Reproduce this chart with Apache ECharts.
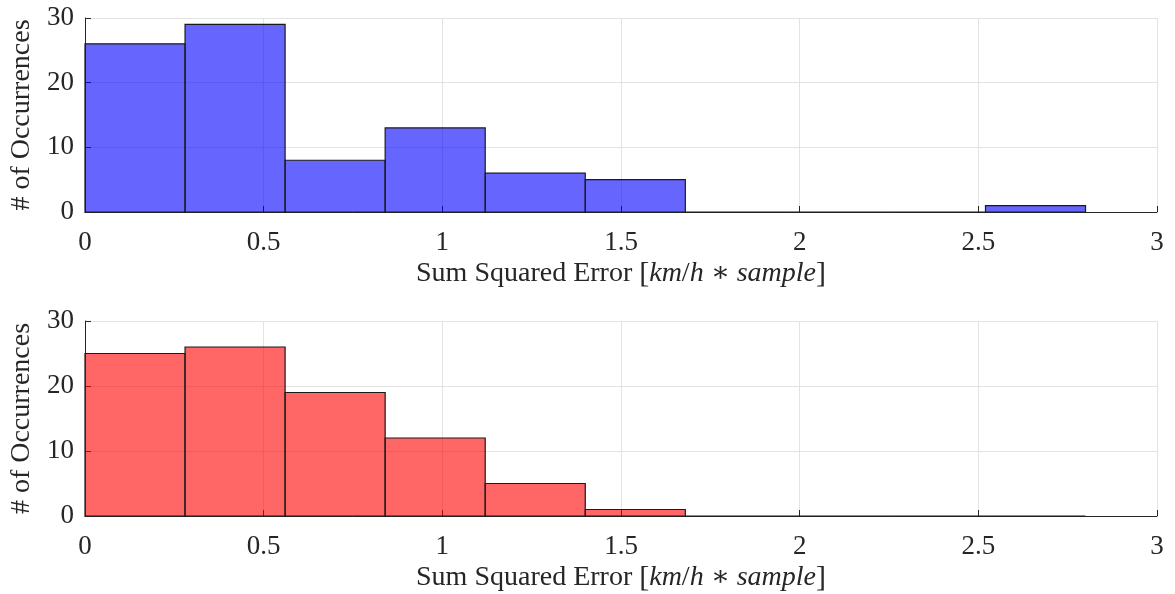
<!DOCTYPE html>
<html><head><meta charset="utf-8">
<script src="https://cdn.jsdelivr.net/npm/echarts@6/dist/echarts.min.js"></script>
<style>html,body{margin:0;padding:0;background:#fff}#c{width:1175px;height:594px}</style>
</head><body><div id="c"></div>
<script>
const binEdges = [0, 0.28, 0.56, 0.84, 1.12, 1.40, 1.68, 1.96, 2.24, 2.52, 2.80];
const countsTop = [26, 29, 8, 13, 6, 5, 0, 0, 0, 1];
const countsBottom = [25, 26, 19, 12, 5, 1, 0, 0, 0, 0];
const xTicks = [0, 0.5, 1, 1.5, 2, 2.5, 3];
const yTicks = [0, 10, 20, 30];

const FONT = '"Liberation Serif", "DejaVu Serif", serif';
const FS = 27;
const NFS = 28;
const chart = echarts.init(document.getElementById('c'), null, {renderer: 'canvas'});

function binData(counts) {
  return counts.map((c, i) => [binEdges[i], binEdges[i + 1], c]);
}
function renderer(fill) {
  return function (params, api) {
    const x0 = api.value(0), x1 = api.value(1), y = api.value(2);
    const p0 = api.coord([x0, y]);
    const p1 = api.coord([x1, 0]);
    return {
      type: 'rect',
      shape: {x: p0[0], y: p0[1], width: p1[0] - p0[0], height: p1[1] - p0[1]},
      style: {fill: fill, stroke: '#1a1a1a', lineWidth: 1.2}
    };
  };
}
function xAxis(gi) {
  return {
    type: 'value', gridIndex: gi, min: xTicks[0], max: xTicks[xTicks.length - 1], interval: 0.5,
    name: '{n|Sum Squared Error }{b|[}{i|km}{n|/}{i|h}{n| ∗ }{i|sample}{b|]}',
    nameLocation: 'middle', nameGap: 47,
    nameTextStyle: {rich: {
      n: {fontFamily: FONT, fontSize: NFS, color: '#262626'},
      i: {fontFamily: FONT, fontSize: NFS, fontStyle: 'italic', color: '#262626'},
      b: {fontFamily: FONT, fontSize: NFS + 2, color: '#262626'}
    }},
    axisLine: {show: true, lineStyle: {color: '#262626', width: 1}},
    axisTick: {show: true, inside: true, length: 6, lineStyle: {color: '#262626'}},
    axisLabel: {fontFamily: FONT, fontSize: FS, color: '#262626', margin: 17},
    splitLine: {show: true, lineStyle: {color: '#e3e3e3', width: 1}}
  };
}
function yAxis(gi) {
  return {
    type: 'value', gridIndex: gi, min: yTicks[0], max: yTicks[yTicks.length - 1], interval: 10,
    name: '# of Occurrences', nameLocation: 'middle', nameGap: 45,
    nameTextStyle: {fontFamily: FONT, fontSize: NFS, color: '#262626'},
    axisLine: {show: true, lineStyle: {color: '#262626', width: 1}},
    axisTick: {show: true, inside: true, length: 6, lineStyle: {color: '#262626'}},
    axisLabel: {fontFamily: FONT, fontSize: FS, color: '#262626', margin: 11},
    splitLine: {show: true, lineStyle: {color: '#e3e3e3', width: 1}}
  };
}
chart.setOption({
  animation: false,
  backgroundColor: '#fff',
  grid: [
    {left: 85, right: 18, top: 18, height: 194},
    {left: 85, right: 18, top: 321, height: 196}
  ],
  xAxis: [xAxis(0), xAxis(1)],
  yAxis: [yAxis(0), yAxis(1)],
  series: [
    {type: 'custom', xAxisIndex: 0, yAxisIndex: 0, renderItem: renderer('rgba(0,0,255,0.6)'),
     encode: {x: [0, 1], y: 2}, data: binData(countsTop), clip: false},
    {type: 'custom', xAxisIndex: 1, yAxisIndex: 1, renderItem: renderer('rgba(255,0,0,0.6)'),
     encode: {x: [0, 1], y: 2}, data: binData(countsBottom), clip: false}
  ]
});
</script></body></html>
